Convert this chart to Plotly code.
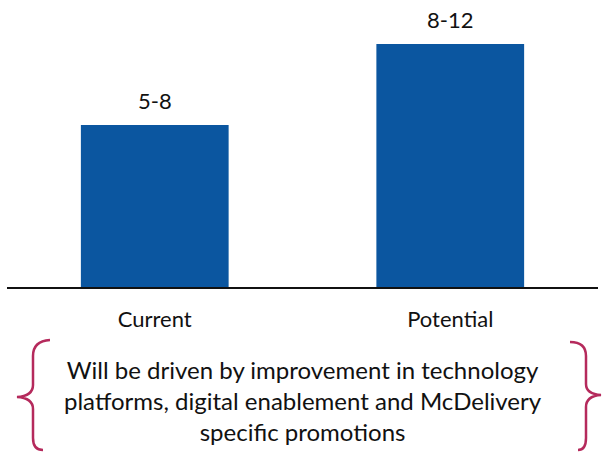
import plotly.graph_objects as go

# Delivery share of sales (%), ranges shown on bars; bars drawn at the upper bound
categories = ["Current", "Potential"]
range_labels = ["5-8", "8-12"]
upper_values = [8, 12]

note_lines = [
    "Will be driven by improvement in technology",
    "platforms, digital enablement and McDelivery",
    "specific promotions",
]

W, H = 603, 452
FONT = "Lato, 'DejaVu Sans', sans-serif"
BAR_COLOR = "#0B56A0"
BRACE_COLOR = "#B52A5C"
TEXT_COLOR = "#111111"

fig = go.Figure(
    go.Bar(
        x=categories,
        y=upper_values,
        marker=dict(color=BAR_COLOR, line=dict(width=0)),
        hoverinfo="skip",
    )
)


def px(x, y):
    """Pixel position -> paper coordinates."""
    return x / W, 1 - y / H


def path(points_cmds):
    out = []
    for cmd, pts in points_cmds:
        coords = " ".join(f"{px(x, y)[0]:.5f},{px(x, y)[1]:.5f}" for x, y in pts)
        out.append(f"{cmd} {coords}")
    return " ".join(out)


left_brace = path([
    ("M", [(50, 340)]),
    ("Q", [(33, 341), (33, 356)]),
    ("L", [(33, 385)]),
    ("Q", [(33, 396), (17, 397)]),
    ("Q", [(33, 398), (33, 409)]),
    ("L", [(33, 438)]),
    ("Q", [(33, 450), (43, 450)]),
])
right_brace = path([
    ("M", [(570, 342)]),
    ("Q", [(586, 342), (586, 356)]),
    ("L", [(586, 384)]),
    ("Q", [(586, 394), (601, 395)]),
    ("Q", [(586, 396), (586, 407)]),
    ("L", [(586, 438)]),
    ("Q", [(586, 450), (578, 450)]),
])

shapes = [
    dict(type="path", path=p, xref="paper", yref="paper",
         line=dict(color=BRACE_COLOR, width=2.5))
    for p in (left_brace, right_brace)
]

# Range labels sit a little above each bar
annotations = [
    dict(
        x=cat, y=val, xref="x", yref="y", text=lab, showarrow=False,
        xanchor="center", yanchor="bottom", yshift=9,
        font=dict(family=FONT, size=22, color=TEXT_COLOR),
    )
    for cat, val, lab in zip(categories, upper_values, range_labels)
]

annotations.append(
    dict(
        x=303 / W, y=1 - 400 / H, xref="paper", yref="paper",
        text="<br>".join(note_lines), showarrow=False,
        font=dict(family=FONT, size=24, color=TEXT_COLOR),
        align="center", xanchor="center", yanchor="middle",
    )
)

baseline_px = 287
top_value_px = 44
y_top = max(upper_values) * baseline_px / (baseline_px - top_value_px)

fig.update_layout(
    width=W, height=H,
    margin=dict(l=0, r=0, t=0, b=0),
    paper_bgcolor="white", plot_bgcolor="white",
    showlegend=False,
    bargap=0.5,
    shapes=shapes,
    annotations=annotations,
    xaxis=dict(
        domain=[7 / W, 598 / W],
        showline=True, linecolor=TEXT_COLOR, linewidth=2,
        ticks="", showgrid=False, zeroline=False,
        tickfont=dict(family=FONT, size=22, color=TEXT_COLOR),
        ticklabelstandoff=12,
    ),
    yaxis=dict(
        domain=[1 - baseline_px / H, 1],
        range=[0, y_top],
        visible=False, showgrid=False, zeroline=False,
    ),
)

fig.write_html("out.html")
